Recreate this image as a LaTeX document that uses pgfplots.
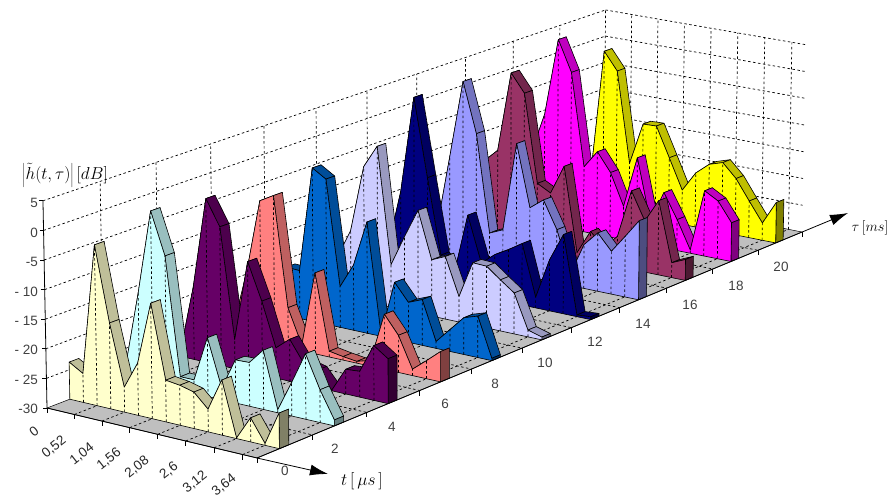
\documentclass[border=0pt]{standalone}
\usepackage{fontspec}
\setmainfont{Liberation Sans}
\usepackage{pgfplots}
\usepackage{pgfplotstable}
\pgfplotsset{compat=1.18}
\usetikzlibrary{arrows.meta}

% one row per tau series (0,2,...,20 ms), one column per t step of 0.26 us; values in dB
\pgfplotstableread{
k0 k1 k2 k3 k4 k5 k6 k7 k8 k9 k10 k11 k12 k13 k14 k15
-23.7 -25.1 -2.8 -15.5 -25.8 -21.2 -10.6 -23 -23.3 -23.9 -26.2 -20.8 -29.9 -26 -29.7 -24.1
-28 -15 -0.4 -7.6 -27.7 -27.7 -20 -28 -22.7 -22.6 -20 -29.5 -24.4 -19 -24.5 -29
-29 -17.4 -1.6 -6 -25 -11 -17.3 -24.8 -22.8 -26.4 -27 -29.9 -25.8 -25.6 -20.7 -22.4
-28 -18 -5.3 -3.9 -23 -29 -15.9 -29 -29.4 -29.7 -29 -20.5 -23.6 -28.9 -26.9 -24.8
-21.4 -21.5 -2.8 -4.3 -22.8 -18.5 -10.4 -29.7 -20 -23 -22 -28.8 -26.2 -23.6 -22.8 -29.6
-23 -17.8 -5.8 -1.7 -22.4 -16.9 -11.7 -20 -18.9 -25.5 -19 -19.1 -21 -22.8 -28.8 -29.5
-25 -14.1 3.5 -10.6 -24.1 -26.9 -15.9 -24 -22 -20.6 -19 -28.1 -20.9 -15.9 -29.7 -29.5
-25 -11 3.3 -5.8 -23.5 -22.4 -6.2 -17.4 -15.5 -20.4 -28 -22.1 -19.5 -22.3 -19.1 -15.8
-15.4 -13 1.8 -1.5 -17.7 -19 -13.6 -29 -24.6 -27 -24.5 -15.7 -20.7 -16.5 -27.3 -26.2
-17 -9.4 5 -0.7 -17.9 -14.6 -18 -23.8 -14.3 -25.6 -19.8 -24.3 -29.4 -18 -19.4 -22.9
-28 -25 -0.2 -3.5 -20.5 -12.6 -12.5 -18 -23.6 -19.9 -17.8 -17 -19.5 -23.2 -26.8 -22.5
}\hdata

\definecolor{face0}{HTML}{FFFFCC}\definecolor{rib0}{HTML}{BFBF99}\definecolor{side0}{HTML}{808066}
\definecolor{face1}{HTML}{CCFFFF}\definecolor{rib1}{HTML}{99BFBF}\definecolor{side1}{HTML}{668080}
\definecolor{face2}{HTML}{660066}\definecolor{rib2}{HTML}{4D004D}\definecolor{side2}{HTML}{330033}
\definecolor{face3}{HTML}{FF8080}\definecolor{rib3}{HTML}{BF6060}\definecolor{side3}{HTML}{804040}
\definecolor{face4}{HTML}{0066CC}\definecolor{rib4}{HTML}{004D99}\definecolor{side4}{HTML}{003366}
\definecolor{face5}{HTML}{CCCCFF}\definecolor{rib5}{HTML}{9999BF}\definecolor{side5}{HTML}{666680}
\definecolor{face6}{HTML}{000080}\definecolor{rib6}{HTML}{000060}\definecolor{side6}{HTML}{000040}
\definecolor{face7}{HTML}{9999FF}\definecolor{rib7}{HTML}{7373BF}\definecolor{side7}{HTML}{4D4D80}
\definecolor{face8}{HTML}{993366}\definecolor{rib8}{HTML}{73264D}\definecolor{side8}{HTML}{4D1A33}
\definecolor{face9}{HTML}{FF00FF}\definecolor{rib9}{HTML}{BF00BF}\definecolor{side9}{HTML}{800080}
\definecolor{face10}{HTML}{FFFF00}\definecolor{rib10}{HTML}{BFBF00}\definecolor{side10}{HTML}{808000}

% perspective of the chart box: u = t/3.9, v = tau position, z in dB
\newcommand\project[3]{%
  \pgfmathsetmacro\prw{1-0.02591*(#1)+0.13192*(#2)}%
  \pgfmathsetmacro\prf{((#3)+30)/35}%
  \pgfmathsetmacro\prx{(203.34*(#1)+636.68*(#2)+47)/\prw}%
  \pgfmathsetmacro\pry{(38.13*(#1)-189.54*(#2)+408-5.92*((#3)+30))/\prw}%
  \pgfmathsetmacro\prx{\prx+(\prx-450)*0.01*\prf}%
}
\newcommand\startlist{\gdef\clist{}}
\newcommand\addpt[3]{\project{#1}{#2}{#3}\xdef\clist{\clist (\prx,\pry)}}
\newcommand\plotlist[1]{\edef\tmp{\noexpand\addplot[#1] coordinates {\clist};}\tmp}
\newcommand\plotpoly[1]{\edef\tmp{\noexpand\addplot[#1] coordinates {\clist} -- cycle;}\tmp}
\newcommand\seg[7]{\startlist\addpt{#2}{#3}{#4}\addpt{#5}{#6}{#7}\plotlist{#1}}

\tikzset{gridd/.style={black,line width=0.7pt,dash pattern=on 2.5pt off 2.5pt},
         edgee/.style={black,line width=0.6pt}}

\newcommand\drawseries[1]{%
  \pgfmathsetmacro\vf{(#1+0.4)/11}%
  \pgfmathsetmacro\vb{(#1+0.57)/11}%
  % top band
  \foreach \k in {0,...,14}{%
    \pgfmathtruncatemacro\kn{\k+1}%
    \pgfplotstablegetelem{#1}{k\k}\of\hdata\let\zA\pgfplotsretval
    \pgfplotstablegetelem{#1}{k\kn}\of\hdata\let\zB\pgfplotsretval
    \pgfmathsetmacro\uA{\k/15}\pgfmathsetmacro\uB{\kn/15}%
    \startlist\addpt{\uA}{\vf}{\zA}\addpt{\uB}{\vf}{\zB}\addpt{\uB}{\vb}{\zB}\addpt{\uA}{\vb}{\zA}%
    \plotpoly{edgee,fill=rib#1}%
  }%
  % end side
  \pgfplotstablegetelem{#1}{k15}\of\hdata\let\zA\pgfplotsretval
  \startlist\addpt{1}{\vf}{\zA}\addpt{1}{\vb}{\zA}\addpt{1}{\vb}{-30}\addpt{1}{\vf}{-30}%
  \plotpoly{edgee,fill=side#1}%
  % front face
  \startlist\addpt{0}{\vf}{-30}%
  \foreach \k in {0,...,15}{%
    \pgfplotstablegetelem{#1}{k\k}\of\hdata\let\zA\pgfplotsretval
    \pgfmathsetmacro\uA{\k/15}%
    \addpt{\uA}{\vf}{\zA}%
  }%
  \addpt{1}{\vf}{-30}%
  \plotpoly{edgee,fill=face#1}%
  % drop lines
  \foreach \k in {1,...,14}{%
    \pgfplotstablegetelem{#1}{k\k}\of\hdata\let\zA\pgfplotsretval
    \pgfmathsetmacro\uA{\k/15}%
    \seg{gridd}{\uA}{\vf}{-30}{\uA}{\vf}{\zA}%
  }%
}

\begin{document}
\begin{tikzpicture}
\begin{axis}[
  width=892pt,height=498pt,scale only axis,
  xmin=0,xmax=892,ymin=0,ymax=498,y dir=reverse,
  axis lines=none,no markers,clip=false,
  every axis plot/.append style={forget plot,sharp plot,line join=round},
]
\path[use as bounding box] (axis cs:0,0) rectangle (axis cs:892,498);
% floor
\startlist\addpt{0}{0}{-30}\addpt{1}{0}{-30}\addpt{1}{1}{-30}\addpt{0}{1}{-30}
\plotpoly{draw=black,line width=0.5pt,fill=black!25}
\foreach \i in {1,...,10}{\pgfmathsetmacro\v{\i/11}\seg{gridd}{0}{\v}{-30}{1}{\v}{-30}}
\foreach \j in {1,...,7}{\pgfmathsetmacro\u{\j*2/15}\seg{gridd}{\u}{0}{-30}{\u}{1}{-30}}
% walls
\foreach \z in {-25,-20,...,5}{%
  \seg{gridd}{0}{0}{\z}{0}{1}{\z}%
  \seg{gridd}{0}{1}{\z}{1}{1}{\z}%
}
\foreach \i in {1,...,11}{\pgfmathsetmacro\v{\i/11}\seg{gridd}{0}{\v}{-30}{0}{\v}{5}}
\foreach \j in {1,...,7}{\pgfmathsetmacro\u{\j*2/15}\seg{gridd}{\u}{1}{-30}{\u}{1}{5}}
% series, back to front
\foreach \s in {10,9,...,0}{\drawseries{\s}}
% axes
\seg{black,line width=0.8pt}{0}{0}{-30}{0}{0}{5}
\seg{black,line width=0.8pt}{0}{0}{-30}{1}{0}{-30}
\addplot[black,line width=0.8pt,-{Latex[length=18pt,width=11pt]}] coordinates {(257,458) (328,474)};
\addplot[black,line width=0.8pt,-{Latex[length=18pt,width=11pt]}] coordinates {(257,458) (848,213)};
% tick marks
\foreach \z in {-30,-25,...,5}{%
  \project{0}{0}{\z}\pgfmathsetmacro\xa{\prx-4}%
  \edef\tmp{\noexpand\addplot[black,line width=0.7pt] coordinates {(\xa,\pry) (\prx,\pry)};}\tmp
}
\foreach \j in {0,...,8}{%
  \pgfmathsetmacro\u{min(\j*2/15,1)}%
  \project{\u}{0}{-30}\pgfmathsetmacro\ya{\pry+5}%
  \edef\tmp{\noexpand\addplot[black,line width=0.7pt] coordinates {(\prx,\pry) (\prx,\ya)};}\tmp
}
\foreach \i in {0,...,11}{%
  \pgfmathsetmacro\v{\i/11}%
  \project{1}{\v}{-30}\pgfmathsetmacro\ya{\pry+5}%
  \edef\tmp{\noexpand\addplot[black,line width=0.7pt] coordinates {(\prx,\pry) (\prx,\ya)};}\tmp
}
% tick labels
\foreach \l/\y in {5/203,0/233,-5/262,- 10/292,- 15/321,- 20/350,- 25/380,-30/409}{%
  \edef\tmp{\noexpand\node[anchor=east,text=black!75,font=\noexpand\fontsize{13.5}{14}\noexpand\selectfont,inner sep=0pt] at (axis cs:38,\y) {\l};}\tmp
}
\foreach \l/\x/\y in {0/34/432,{0,52}/54/447,{1,04}/82/454,{1,56}/109/459,{2,08}/137/467,{2,6}/169/471,{3,12}/195/482,{3,64}/224/485}{%
  \edef\tmp{\noexpand\node[rotate=38,text=black!85,font=\noexpand\fontsize{13.5}{14}\noexpand\selectfont,inner sep=0pt] at (axis cs:\x,\y) {\l};}\tmp
}
\foreach \l/\x/\y in {0/285/471,2/335/449,4/392/427,6/445/404,8/495/384,10/545/363,12/595/342,14/643/324,16/690/305,18/736/286,20/781/267}{%
  \edef\tmp{\noexpand\node[text=black!75,font=\noexpand\fontsize{13.5}{14}\noexpand\selectfont,inner sep=0pt] at (axis cs:\x,\y) {\l};}\tmp
}
\node[font=\fontsize{16}{16}\selectfont,inner sep=0pt] at (axis cs:65,175) {$\left|\tilde{h}(t,\tau)\right|\left[dB\right]$};
\node[font=\fontsize{15}{16}\selectfont,inner sep=0pt] at (axis cs:870,228) {$\tau\left[ms\right]$};
\node[font=\fontsize{18}{18}\selectfont,inner sep=0pt] at (axis cs:362,481) {$t\left[\,\mu s\,\right]$};
\end{axis}
\end{tikzpicture}
\end{document}
